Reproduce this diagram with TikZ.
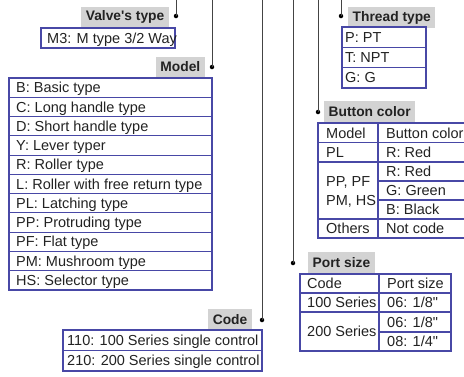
\documentclass[tikz,border=0pt]{standalone}
\usepackage{fontspec}
\setmainfont{Liberation Sans}[Ligatures=TeXOff]
\definecolor{framblue}{HTML}{4848A6}
\definecolor{labelgray}{HTML}{D3D3D3}
\definecolor{leadgray}{HTML}{444444}
\definecolor{inkgray}{HTML}{222222}
\tikzset{
  lbl/.style={fill=labelgray, text=inkgray, font=\fontsize{13.8}{16}\selectfont\bfseries,
    inner xsep=4.5pt, inner ysep=0pt, minimum height=20.5pt},
  ent/.style={text=inkgray, font=\fontsize{14.5}{17}\selectfont, inner sep=0pt, anchor=base west},
  frame/.style={draw=framblue, line width=1.1pt},
  lead/.style={draw=leadgray, line width=0.9pt},
  dot/.style={circle, fill=black, inner sep=0pt, minimum size=4.5pt},
}

\begin{document}
\begin{tikzpicture}[x=1pt, y=-1pt]

\useasboundingbox (0,0) rectangle (464,376);

% Lead lines from the top edge down to the dots
\coordinate (tvalve) at (176,0);
\coordinate (tmodel) at (212,0);
\coordinate (tcode) at (262,0);
\coordinate (tport) at (293,0);
\coordinate (tbutton) at (318,0);
\coordinate (tthread) at (341,0);
\node[dot] (dvalve) at (176,16) {};
\node[dot] (dmodel) at (212,67) {};
\node[dot] (dcode) at (262,320) {};
\node[dot] (dport) at (293,263) {};
\node[dot] (dbutton) at (318,112) {};
\node[dot] (dthread) at (341,16) {};
\foreach \n in {valve,model,code,port,button,thread}
  \draw[lead] (t\n) -- (d\n.center);

% Headings
\node[lbl, anchor=east] (lvalve) at (169,17) {Valve's type};
\node[lbl, anchor=east] (lmodel) at (205,67) {Model};
\node[lbl, anchor=east] (lcode) at (252,319.5) {Code};
\node[lbl, anchor=west] (lthread) at (348,17.5) {Thread type};
\node[lbl, anchor=west] (lbutton) at (324,111.5) {Button color};
\node[lbl, anchor=west] (lport) at (308,262.5) {Port size};

% Valve's type
\draw[frame] (41,28) rectangle (175,48);
\node[ent] (valve1) at (47,43.2) {M3: M type 3/2 Way};

% Model
\draw[frame] (9,78) rectangle (212,290);
\foreach \i in {1,...,10}
  \draw[frame] (9,78+\i*19.27) -- (212,78+\i*19.27);
\foreach \t [count=\i from 0] in {B: Basic type, C: Long handle type, D: Short handle type,
    Y: Lever typer, R: Roller type, L: Roller with free return type, PL: Latching type,
    PP: Protruding type, PF: Flat type, PM: Mushroom type, HS: Selector type}
  \node[ent] (model\i) at (16,78+\i*19.27+14.8) {\t};

% Code
\draw[frame] (63,330) rectangle (262,371);
\draw[frame] (63,350.5) -- (262,350.5);
\node[ent] (code1) at (67,345.4) {110: 100 Series single control};
\node[ent] (code2) at (67,365.9) {210: 200 Series single control};

% Thread type
\draw[frame] (342,27) rectangle (426,88);
\draw[frame] (342,47.3) -- (426,47.3);
\draw[frame] (342,67.6) -- (426,67.6);
\node[ent] (thread1) at (345,42.3) {P: PT};
\node[ent] (thread2) at (345,62.6) {T: NPT};
\node[ent] (thread3) at (345,82.9) {G: G};

% Button color
\draw[frame] (318,123) rectangle (470,238);
\draw[frame] (378,123) -- (378,238);
\draw[frame] (318,142.5) -- (470,142.5);
\draw[frame] (318,162) -- (470,162);
\draw[frame] (378,181) -- (470,181);
\draw[frame] (378,200) -- (470,200);
\draw[frame] (318,219) -- (470,219);
\node[ent] (button1) at (326,138) {Model};
\node[ent] (button2) at (386,138) {Button color};
\node[ent] (button3) at (326,157.5) {PL};
\node[ent] (button4) at (386,157.5) {R: Red};
\node[ent] (button5) at (326,186) {PP, PF};
\node[ent] (button6) at (326,205.3) {PM, HS};
\node[ent] (button7) at (386,176.7) {R: Red};
\node[ent] (button8) at (386,195.7) {G: Green};
\node[ent] (button9) at (386,214.7) {B: Black};
\node[ent] (button10) at (326,233.7) {Others};
\node[ent] (button11) at (386,233.7) {Not code};

% Port size
\draw[frame] (300,274) rectangle (451,351);
\draw[frame] (379,274) -- (379,351);
\draw[frame] (300,293) -- (451,293);
\draw[frame] (300,312) -- (451,312);
\draw[frame] (379,332) -- (451,332);
\node[ent] (port1) at (307,288.7) {Code};
\node[ent] (port2) at (387,288.7) {Port size};
\node[ent] (port3) at (307,307.7) {100 Series};
\node[ent] (port4) at (387,307.7) {06: 1/8"};
\node[ent] (port5) at (307,336.7) {200 Series};
\node[ent] (port6) at (387,327.2) {06: 1/8"};
\node[ent] (port7) at (387,346.7) {08: 1/4"};

\end{tikzpicture}
\end{document}
